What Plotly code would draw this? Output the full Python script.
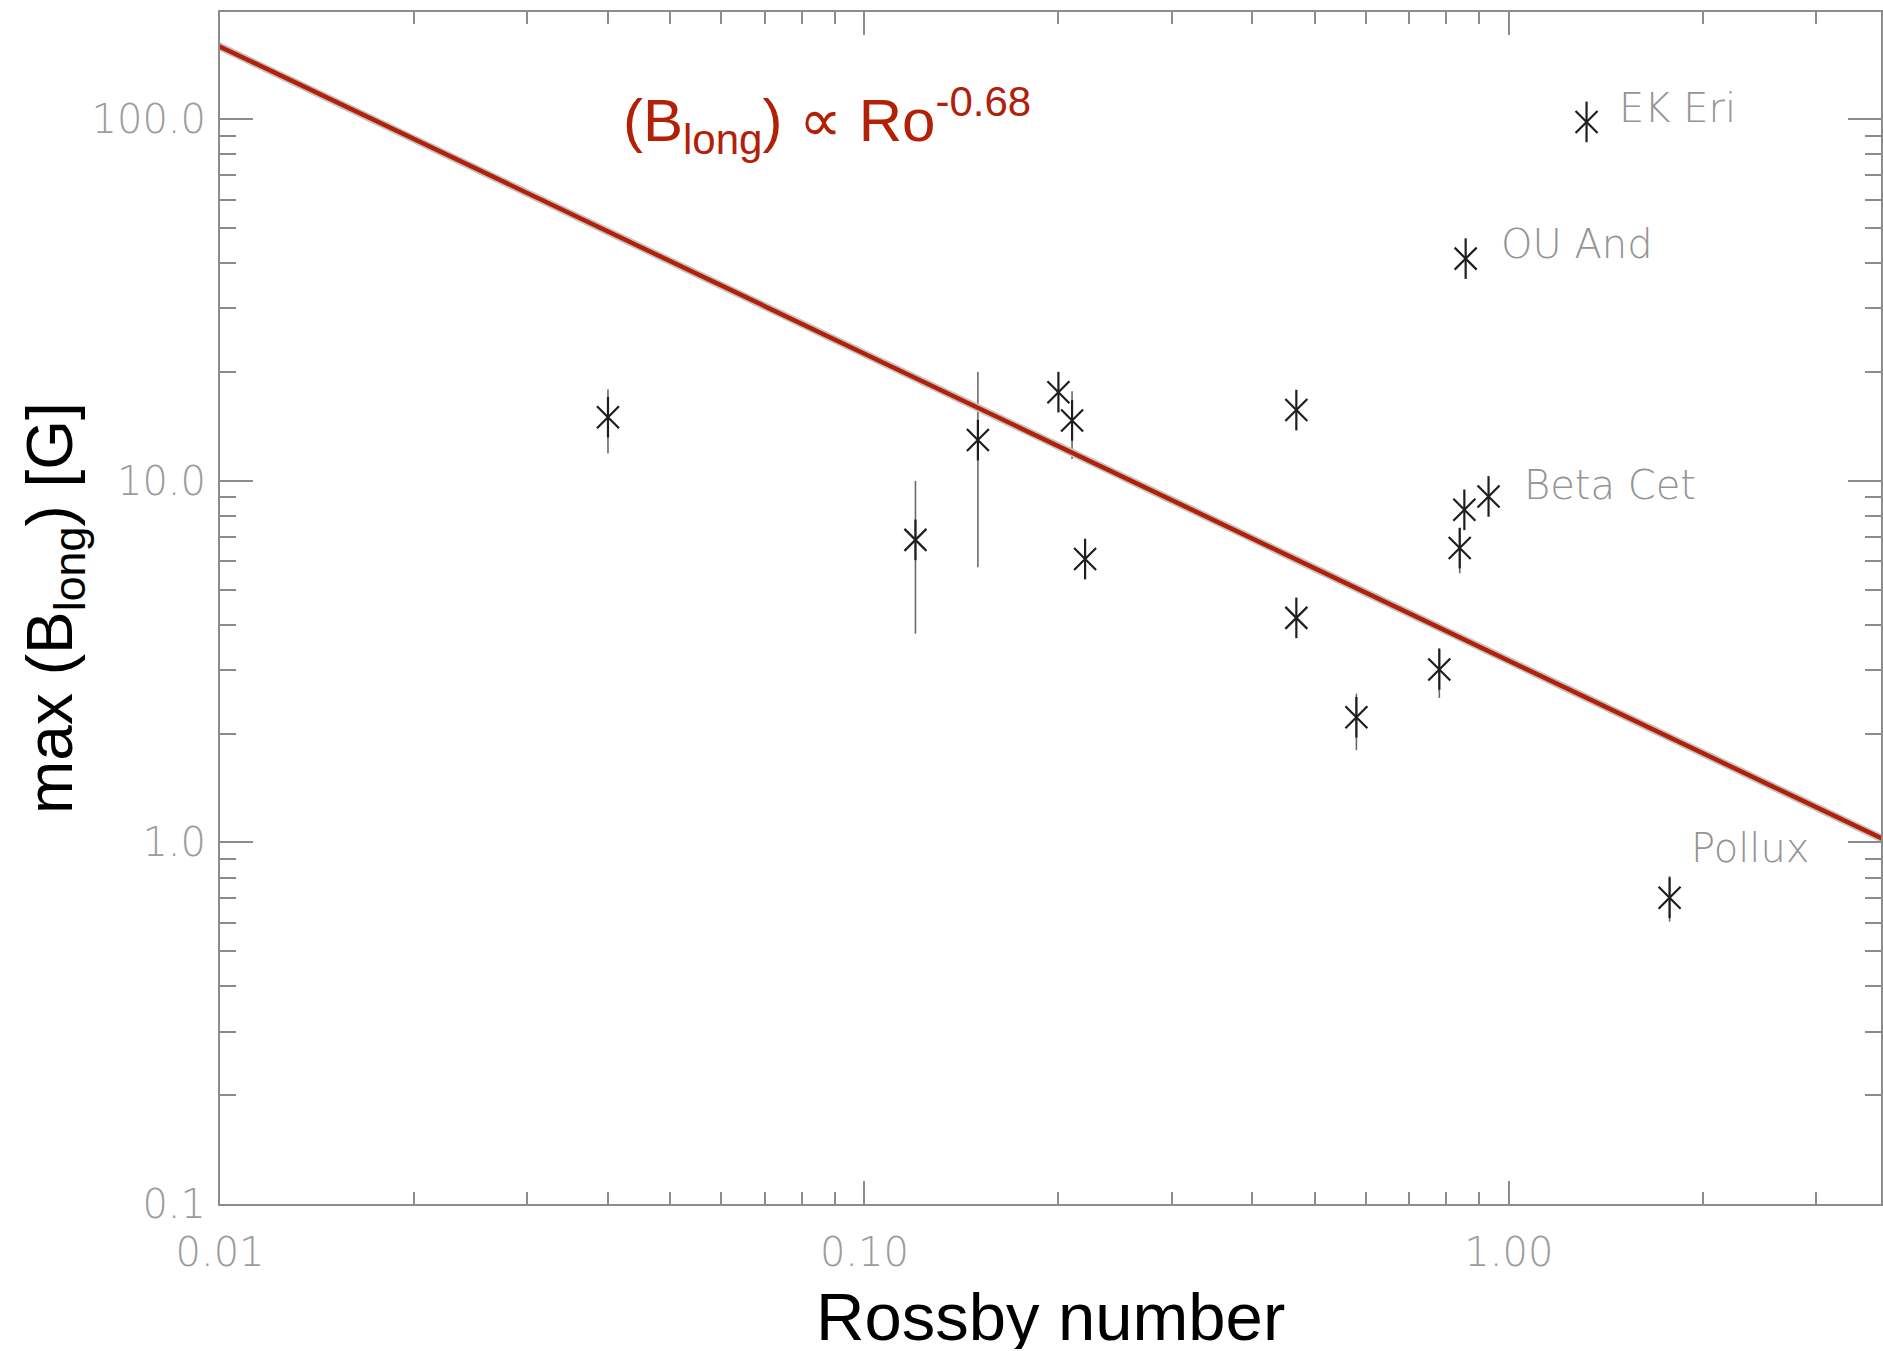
import math
import plotly.graph_objects as go

# ---- data ----
rossby = [0.040, 0.120, 0.150, 0.200, 0.210, 0.220, 0.468, 0.468, 0.58, 0.78, 0.839, 0.853, 0.93, 1.32, 0.857, 1.776]
b_max = [15.0, 6.87, 12.97, 17.6, 14.7, 6.08, 15.7, 4.18, 2.22, 3.01, 6.52, 8.32, 9.06, 98.4, 41.2, 0.703]
b_hi = [17.9, 10.0, 20.0, 17.6, 17.7, 6.08, 15.7, 4.18, 2.58, 3.45, 7.41, 8.32, 9.06, 98.4, 41.2, 0.807]
b_lo = [11.9, 3.78, 5.77, 17.6, 11.5, 6.08, 15.7, 4.18, 1.80, 2.51, 5.55, 8.32, 9.06, 98.4, 41.2, 0.604]

star_names = ["EK Eri", "OU And", "Beta Cet", "Pollux"]
star_ro = [1.32, 0.857, 0.93, 1.776]
star_b = [98.4, 41.2, 9.06, 0.703]

fit_ro = [0.0095, 4.0]
fit_b = [166.0, 0.98]

x_tickvals = [0.01, 0.1, 1.0]
x_ticktext = ["0.01", "0.10", "1.00"]
y_tickvals = [0.1, 1.0, 10.0, 100.0]
y_ticktext = ["0.1", "1.0", "10.0", "100.0"]
x_minor = [m * d for d in (0.01, 0.1, 1.0) for m in range(2, 10)]
y_minor = [m * d for d in (0.1, 1.0, 10.0, 100.0) for m in range(2, 10)]

# ---- styles ----
AX = "#8c8c8c"
LIGHT_FONT = "DejaVu Sans ExtraLight, DejaVu Sans"
TICKFONT = dict(family=LIGHT_FONT, size=40, color="#9c9c9c", weight=200)
RED = "#B32008"
STAR = "#1e1e1e"

err_plus = [h - v for h, v in zip(b_hi, b_max)]
err_minus = [v - l for v, l in zip(b_max, b_lo)]

fig = go.Figure()

# error bars + vertical arm of asterisk
fig.add_trace(go.Scatter(
    x=rossby, y=b_max, mode="markers",
    marker=dict(symbol="line-ns-open", size=29, color=STAR, line=dict(width=2.2)),
    error_y=dict(type="data", symmetric=False, array=err_plus, arrayminus=err_minus,
                 color="#6a6a6a", thickness=1.6, width=0),
    hoverinfo="skip", showlegend=False))
# diagonal arms of asterisk
fig.add_trace(go.Scatter(
    x=rossby, y=b_max, mode="markers",
    marker=dict(symbol="x-thin-open", size=22, color=STAR, line=dict(width=2.2)),
    hoverinfo="skip", showlegend=False))

# fit line (soft shadow + red line)
fig.add_trace(go.Scatter(x=fit_ro, y=fit_b, mode="lines",
                         line=dict(color="#c4c4c4", width=8),
                         hoverinfo="skip", showlegend=False))
fig.add_trace(go.Scatter(x=fit_ro, y=fit_b, mode="lines",
                         line=dict(color=RED, width=4.5),
                         hoverinfo="skip", showlegend=False))

annotations = []
label_offsets = {"EK Eri": (30, 14), "OU And": (33, 15), "Beta Cet": (33, 11), "Pollux": (19, 50)}
for name, xr, yb in zip(star_names, star_ro, star_b):
    dx, dy = label_offsets[name]
    annotations.append(dict(x=math.log10(xr), y=math.log10(yb), xref="x", yref="y",
                            text=name, showarrow=False,
                            xanchor="left", yanchor="middle", xshift=dx, yshift=dy,
                            font=dict(family=LIGHT_FONT, size=40, color="#949494", weight=200)))

# formula
annotations.append(dict(x=0.2415, y=0.909, xref="paper", yref="paper",
                        text="(B<sub>long</sub>) ∝ Ro<sup>-0.68</sup>", showarrow=False,
                        xanchor="left", yanchor="middle",
                        font=dict(family="Liberation Sans", size=60, color=RED)))
# axis titles
annotations.append(dict(x=0.5, y=0, xref="paper", yref="paper", text="Rossby number",
                        showarrow=False, xanchor="center", yanchor="middle", yshift=-112,
                        height=66,
                        font=dict(family="Liberation Sans", size=67, color="black")))
annotations.append(dict(x=0, y=0.5, xref="paper", yref="paper",
                        text="max (B<sub>long</sub>) [G]", textangle=-90,
                        showarrow=False, xanchor="center", yanchor="middle", xshift=-166,
                        font=dict(family="Liberation Sans", size=64, color="black")))

fig.update_layout(
    width=1883, height=1351,
    margin=dict(l=220, r=0, t=12, b=147, pad=0),
    plot_bgcolor="white", paper_bgcolor="white",
    showlegend=False,
    annotations=annotations,
    xaxis=dict(type="log", range=[-2, 0.5775], showgrid=False, zeroline=False,
               showline=True, linecolor=AX, linewidth=2, mirror="allticks",
               ticks="inside", ticklen=23, tickwidth=2, tickcolor=AX,
               tickmode="array", tickvals=x_tickvals, ticktext=x_ticktext,
               tickfont=TICKFONT, ticklabelstandoff=12,
               minor=dict(tickmode="array", tickvals=x_minor, ticks="inside",
                          ticklen=12, tickwidth=2, tickcolor=AX, showgrid=False)),
    yaxis=dict(type="log", range=[-1, 2.297], showgrid=False, zeroline=False,
               showline=True, linecolor=AX, linewidth=2, mirror="allticks",
               ticks="inside", ticklen=33, tickwidth=2, tickcolor=AX,
               tickmode="array", tickvals=y_tickvals, ticktext=y_ticktext,
               tickfont=TICKFONT, ticklabelstandoff=4,
               minor=dict(tickmode="array", tickvals=y_minor, ticks="inside",
                          ticklen=16, tickwidth=2, tickcolor=AX, showgrid=False)),
)

fig.write_html("out.html")
